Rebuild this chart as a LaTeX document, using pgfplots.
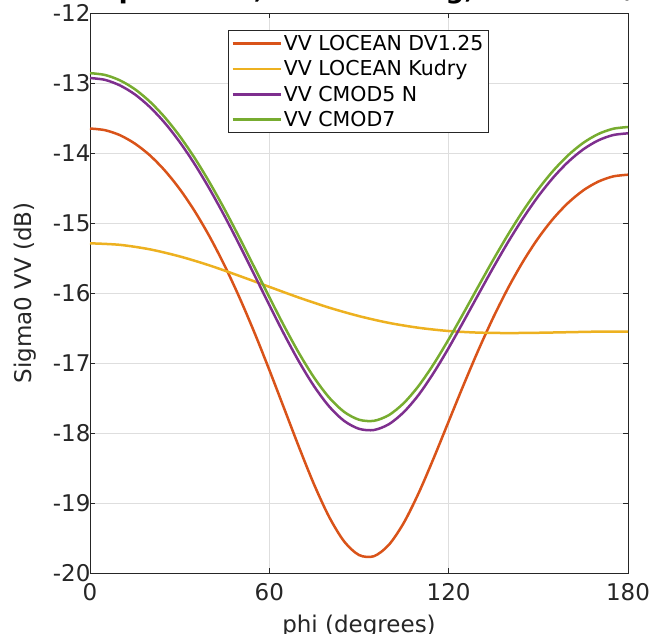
\documentclass[border=0pt]{standalone}
\usepackage{fontspec}
\setmainfont{DejaVu Sans}
\usepackage{pgfplots}
\pgfplotsset{compat=1.18}
\definecolor{corange}{rgb}{0.850,0.325,0.098}
\definecolor{cyellow}{rgb}{0.929,0.694,0.125}
\definecolor{cpurple}{rgb}{0.494,0.184,0.556}
\definecolor{cgreen}{rgb}{0.466,0.674,0.188}
\definecolor{axgray}{rgb}{0.15,0.15,0.15}
\begin{document}
\begin{tikzpicture}
\begin{axis}[
  scale only axis, width=538pt, height=560pt,
  xmin=0, xmax=180, ymin=-20, ymax=-12,
  xtick={0,60,120,180}, xticklabels={0,60,120,180},
  ytick={-20,-19,-18,-17,-16,-15,-14,-13,-12},
  yticklabels={-20,-19,-18,-17,-16,-15,-14,-13,-12},
  grid=major,
  major grid style={draw=black!13, line width=0.7pt},
  tick align=inside, major tick length=5pt,
  axis line style={draw=axgray, line width=0.8pt},
  every tick/.style={draw=axgray, line width=0.8pt},
  ticklabel style={font=\fontsize{23}{23}\selectfont, text=axgray},
  xticklabel style={yshift=-7pt},
  yticklabel style={xshift=4pt},
  xlabel={phi (degrees)}, ylabel={Sigma0 VV (dB)},
  label style={font=\fontsize{23}{23}\selectfont, text=axgray},
  xlabel style={at={(axis description cs:0.5,-0.1054)}, anchor=base},
  ylabel style={at={(axis description cs:-0.1208,0.5)}, anchor=center},
  title={freq=1.4GHz, theta=40deg, U10=10m/s},
  title style={at={(axis description cs:0.5,1.016)}, anchor=base, font=\fontsize{26}{26}\selectfont\bfseries},
  legend style={at={(axis description cs:0.2565,0.9696)}, anchor=north west,
    draw=axgray, line width=0.8pt, fill=white, inner xsep=3pt, inner ysep=2.5pt,
    font=\fontsize{20.5}{20.5}\selectfont, row sep=4.6pt, text=black},
  legend cell align=left,
  legend image code/.code={\draw[#1, line width=2.5pt] (0pt,0pt) -- (48pt,0pt);},
]
\addplot[color=corange, line width=2.5pt, smooth, no markers] coordinates {
(0,-13.650) (5,-13.674) (10,-13.745) (15,-13.865) (20,-14.032) (25,-14.249) (30,-14.514) (35,-14.829) (40,-15.193) (45,-15.605) (50,-16.064) (55,-16.564) (60,-17.099) (65,-17.654) (70,-18.210) (75,-18.738) (80,-19.198) (85,-19.547) (90,-19.743) (95,-19.760) (100,-19.597) (105,-19.282) (110,-18.854) (115,-18.358) (120,-17.834) (125,-17.312) (130,-16.810) (135,-16.343) (140,-15.919) (145,-15.542) (150,-15.214) (155,-14.937) (160,-14.711) (165,-14.535) (170,-14.410) (175,-14.335) (180,-14.310)};
\addlegendentry{VV LOCEAN DV1.25}
\addplot[color=cyellow, line width=2.5pt, smooth, no markers] coordinates {
(0,-15.290) (10,-15.312) (20,-15.376) (30,-15.477) (40,-15.606) (50,-15.756) (60,-15.912) (70,-16.067) (80,-16.209) (90,-16.330) (100,-16.427) (110,-16.497) (120,-16.543) (130,-16.566) (140,-16.572) (150,-16.568) (160,-16.560) (170,-16.552) (180,-16.550)};
\addlegendentry{VV LOCEAN Kudry}
\addplot[color=cpurple, line width=2.5pt, smooth, no markers] coordinates {
(0,-12.929) (5,-12.955) (10,-13.034) (15,-13.162) (20,-13.342) (25,-13.569) (30,-13.842) (35,-14.158) (40,-14.513) (45,-14.900) (50,-15.313) (55,-15.741) (60,-16.172) (65,-16.593) (70,-16.986) (75,-17.334) (80,-17.620) (85,-17.826) (90,-17.940) (95,-17.957) (100,-17.874) (105,-17.701) (110,-17.452) (115,-17.139) (120,-16.785) (125,-16.404) (130,-16.016) (135,-15.631) (140,-15.264) (145,-14.924) (150,-14.617) (155,-14.350) (160,-14.126) (165,-13.949) (170,-13.821) (175,-13.744) (180,-13.719)};
\addlegendentry{VV CMOD5 N}
\addplot[color=cgreen, line width=2.5pt, smooth, no markers] coordinates {
(0,-12.859) (5,-12.885) (10,-12.962) (15,-13.088) (20,-13.265) (25,-13.489) (30,-13.758) (35,-14.070) (40,-14.420) (45,-14.802) (50,-15.210) (55,-15.633) (60,-16.059) (65,-16.476) (70,-16.865) (75,-17.210) (80,-17.493) (85,-17.697) (90,-17.810) (95,-17.826) (100,-17.744) (105,-17.572) (110,-17.324) (115,-17.014) (120,-16.662) (125,-16.285) (130,-15.900) (135,-15.519) (140,-15.156) (145,-14.819) (150,-14.516) (155,-14.252) (160,-14.031) (165,-13.856) (170,-13.730) (175,-13.654) (180,-13.629)};
\addlegendentry{VV CMOD7}
\end{axis}
\pgfresetboundingbox
\useasboundingbox (-90pt,-60pt) rectangle (560pt,573pt);
\end{tikzpicture}
\end{document}
